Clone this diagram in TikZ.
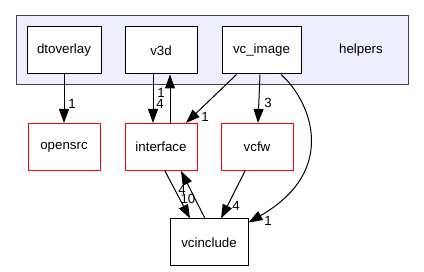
\documentclass[tikz,border=0pt]{standalone}
\usepackage{fontspec}
\setmainfont{Liberation Sans}
\usetikzlibrary{arrows.meta,calc}
\definecolor{clusterfill}{RGB}{238,238,255}
\definecolor{clusterline}{RGB}{68,68,68}
\tikzset{
  dirbox/.style={draw=black, fill=white, line width=1pt, minimum width=74pt, minimum height=47pt,
    inner sep=0pt, font=\fontsize{13.3}{16}\selectfont},
  extbox/.style={dirbox, draw=red},
  dep/.style={draw=black, line width=1pt, -{Triangle[length=14pt,width=10pt]}},
  cnt/.style={font=\fontsize{13.3}{16}\selectfont, inner sep=0pt}
}
\begin{document}
\begin{tikzpicture}[x=1pt,y=-1pt]
  \useasboundingbox (0,0) rectangle (424,272);
  % helpers directory cluster
  \draw[fill=clusterfill, draw=clusterline, line width=1pt] (16,16) rectangle (408,85);
  \node[cnt] (helpers) at (361,50) {helpers};
  % directories
  \node[dirbox] (dtoverlay) at (64,50.5) {dtoverlay};
  \node[dirbox, minimum width=72pt] (v3d) at (161,50.5) {v3d};
  \node[dirbox, minimum width=79pt] (vcimage) at (261.5,50.5) {vc\_image};
  \node[extbox, minimum width=72pt] (opensrc) at (64,147) {opensrc};
  \node[extbox, minimum width=72pt] (interface) at (161,147) {interface};
  \node[extbox, minimum width=72pt] (vcfw) at (257,147) {vcfw};
  \node[dirbox, minimum width=78pt] (vcinclude) at (209,242.5) {vcinclude};
  % dependencies
  \draw[dep] (dtoverlay.south) -- (opensrc.north);
  \node[cnt] at (72,104) {1};
  \draw[dep] ($(v3d.south)+(-8,0)$) -- ($(interface.north)+(-8,0)$);
  \node[cnt] at (160,103.5) {4};
  \draw[dep] ($(interface.north)+(9,0)$) -- ($(v3d.south)+(9,0)$);
  \node[cnt] at (161,92.5) {1};
  \draw[dep] ($(vcimage.south)+(-25,0)$) -- ($(interface.north)+(25,0)$);
  \node[cnt] at (205,117) {1};
  \draw[dep] ($(vcimage.south)+(-1.5,0)$) -- ($(vcfw.north)+(1,0)$);
  \node[cnt] at (268,103) {3};
  \draw[dep] ($(vcimage.south)+(19.5,0)$) .. controls (310,100) and (340,170) .. ($(vcinclude.north east)+(0,4)$);
  \node[cnt] at (268,221) {1};
  \draw[dep] ($(interface.south)+(4,0)$) -- ($(vcinclude.north)+(-19,0)$);
  \node[cnt] at (182,189.5) {4};
  \node[cnt] at (188,198.5) {10};
  \draw[dep] ($(vcinclude.north)+(-4,0)$) -- ($(interface.south)+(20,0)$);
  \draw[dep] ($(vcfw.south)+(-12,0)$) -- ($(vcinclude.north)+(12,0)$);
  \node[cnt] at (236,206) {4};
\end{tikzpicture}
\end{document}
